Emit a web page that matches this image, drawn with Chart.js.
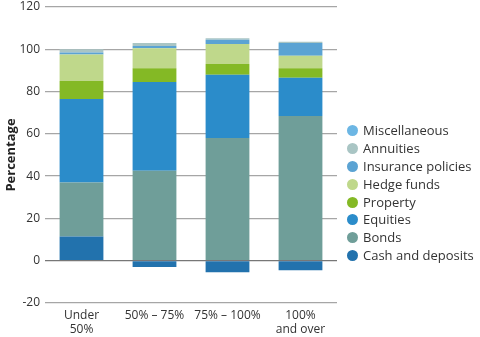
<!DOCTYPE html>
<html>
<head>
<meta charset="utf-8">
<script src="https://cdn.jsdelivr.net/npm/chart.js@4/dist/chart.umd.min.js"></script>
<style>
  html, body { margin: 0; padding: 0; background: #fff; }
  #wrap { position: relative; width: 480px; height: 337px; font-family: "Open Sans", sans-serif; }
  #chart { position: absolute; left: 0; top: 0; }
  #legend { position: absolute; left: 347px; top: 122px; margin: 0; padding: 0; list-style: none; }
  #legend li { height: 17.9px; line-height: 17.9px; font-size: 13px; color: #333; white-space: nowrap; }
  #legend span { display: inline-block; width: 11px; height: 11px; border-radius: 50%; margin-right: 5px; vertical-align: -1px; }
</style>
</head>
<body>
<div id="wrap">
  <canvas id="chart" width="480" height="337"></canvas>
  <ul id="legend"></ul>
</div>
<script>
// === Data ===
const categories = [["Under", "50%"], "50% – 75%", "75% – 100%", ["100%", "and over"]];
const seriesNames = ["Cash and deposits", "Bonds", "Equities", "Property", "Hedge funds", "Insurance policies", "Annuities", "Miscellaneous"];
const cash = [11.5, -3, -5.5, -4.5];
const bonds = [25.5, 42.5, 58, 68.5];
const equities = [39.5, 42, 30, 18];
const property = [8.5, 6.5, 5, 4.5];
const hedgeFunds = [12.5, 9.5, 9.5, 6];
const insurance = [1, 1, 2, 6];
const annuities = [1.5, 1.5, 0.7, 0.6];
const miscellaneous = [0, 0, 0, 0];
const yTicks = [120, 100, 80, 60, 40, 20, 0, -20];

const colors = ["#2272ad", "#6f9e99", "#2b8cca", "#84b925", "#bfd88b", "#5ba3d3", "#a9c5c4", "#6cb6e4"];
const values = [cash, bonds, equities, property, hedgeFunds, insurance, annuities, miscellaneous];

const datasets = seriesNames.map((name, i) => ({
  label: name,
  data: values[i],
  backgroundColor: colors[i],
  borderWidth: 0,
  categoryPercentage: 1,
  barPercentage: 0.6
}));

// === Chart ===
const ctx = document.getElementById("chart").getContext("2d");
new Chart(ctx, {
  type: "bar",
  data: { labels: categories, datasets: datasets },
  options: {
    responsive: false,
    animation: false,
    layout: { padding: { top: 0, right: 143, left: 0, bottom: 0 } },
    plugins: { legend: { display: false }, tooltip: { enabled: false } },
    scales: {
      x: {
        stacked: true,
        grid: { display: false },
        border: { display: false },
        ticks: { color: "#333", font: { family: "Open Sans", size: 12, lineHeight: 1.15 }, padding: -2, maxRotation: 0 },
        afterFit: s => { s.height = 34; }
      },
      y: {
        stacked: true,
        min: -20,
        max: 120,
        afterBuildTicks: s => { s.ticks = yTicks.map(v => ({ value: v })); },
        grid: {
          color: c => c.tick && c.tick.value === 0 ? "#777" : "#a6a6a6",
          lineWidth: 1.3,
          tickLength: 0
        },
        border: { display: false },
        ticks: { color: "#333", font: { family: "Open Sans", size: 12 }, padding: 5 },
        title: { display: true, text: "Percentage", color: "#222", font: { family: "Open Sans", size: 13, weight: "bold" }, padding: { top: 3, bottom: 0 } },
        afterFit: s => { s.width = 45; s.paddingTop = 7; s.paddingBottom = 0; }
      }
    }
  }
});

// === Legend (top item first) ===
const legend = document.getElementById("legend");
for (let i = seriesNames.length - 1; i >= 0; i--) {
  const li = document.createElement("li");
  li.innerHTML = `<span style="background:${colors[i]}"></span>${seriesNames[i]}`;
  legend.appendChild(li);
}
</script>
</body>
</html>
